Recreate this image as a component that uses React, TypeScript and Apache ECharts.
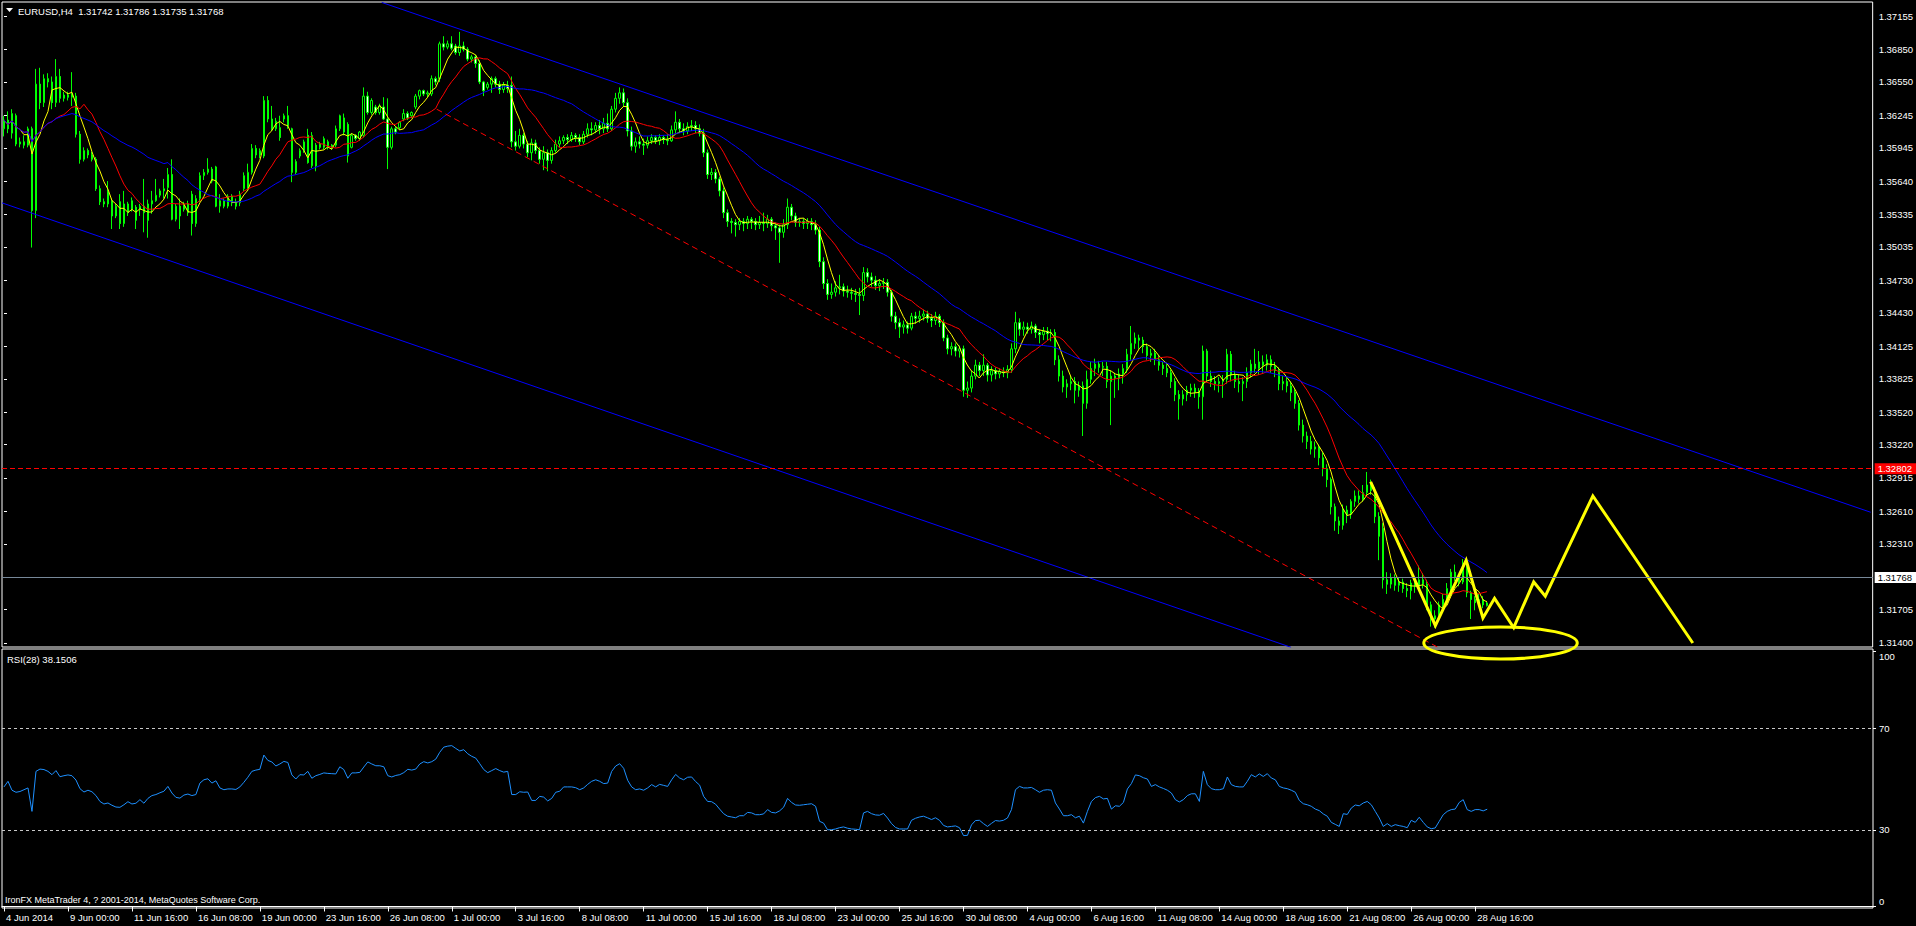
import React, { useEffect, useRef } from 'react';
import * as echarts from 'echarts';

// ---------- data ----------
const dateLabels = [
  '4 Jun 2014', '9 Jun 00:00', '11 Jun 16:00', '16 Jun 08:00', '19 Jun 00:00', '23 Jun 16:00',
  '26 Jun 08:00', '1 Jul 00:00', '3 Jul 16:00', '8 Jul 08:00', '11 Jul 00:00', '15 Jul 16:00',
  '18 Jul 08:00', '23 Jul 00:00', '25 Jul 16:00', '30 Jul 08:00', '4 Aug 00:00', '6 Aug 16:00',
  '11 Aug 08:00', '14 Aug 00:00', '18 Aug 16:00', '21 Aug 08:00', '26 Aug 00:00', '28 Aug 16:00',
];
const barsPerLabel = 16;
const totalSlots = 468;

const priceTicks = [
  1.37155, 1.3685, 1.3655, 1.36245, 1.35945, 1.3564, 1.35335, 1.35035, 1.3473, 1.3443,
  1.34125, 1.33825, 1.3352, 1.3322, 1.32915, 1.3261, 1.3231, 1.32005, 1.31705, 1.314,
];
const rsiTicks = [0, 30, 70, 100];
const rsiLevels = [70, 30];

// [open, close, low, high]
const candles: number[][] = [
  [1.3612,1.362,1.3605,1.3624],[1.362,1.3612,1.3608,1.3628],[1.3608,1.3626,1.3603,1.363],[1.3624,1.3598,1.3596,1.3626],
  [1.3598,1.36,1.3595,1.3604],[1.36,1.3597,1.3594,1.3606],[1.3597,1.3612,1.3595,1.3614],[1.3612,1.3537,1.3503,1.3614],
  [1.3537,1.3653,1.353,1.3667],[1.3653,1.3636,1.363,1.3668],[1.3636,1.3658,1.3632,1.3662],[1.3658,1.3655,1.365,1.3663],
  [1.3655,1.3636,1.363,1.366],[1.3636,1.366,1.3632,1.3676],[1.366,1.364,1.3636,1.3667],[1.364,1.3643,1.3637,1.3646],
  [1.3643,1.3641,1.3638,1.3646],[1.3641,1.3644,1.3633,1.3664],[1.3642,1.3607,1.3604,1.3645],[1.3607,1.3584,1.358,1.361],
  [1.3584,1.3592,1.3582,1.3595],[1.3592,1.3588,1.3585,1.3594],[1.3588,1.3584,1.3582,1.3591],[1.3584,1.3557,1.3555,1.3586],
  [1.3557,1.3545,1.3542,1.356],[1.3545,1.3543,1.354,1.3548],[1.3543,1.3554,1.354,1.3564],[1.3546,1.3532,1.352,1.3548],
  [1.3532,1.3541,1.353,1.3543],[1.3545,1.3525,1.352,1.3552],[1.3525,1.3543,1.3522,1.3555],[1.3543,1.3535,1.3532,1.3545],
  [1.3538,1.3546,1.3536,1.3549],[1.354,1.3528,1.352,1.3542],[1.3538,1.3541,1.3532,1.3543],[1.3541,1.3535,1.3517,1.3566],
  [1.3543,1.3528,1.3512,1.3547],[1.3543,1.3546,1.3534,1.3555],[1.3546,1.3551,1.3545,1.3566],[1.3551,1.3555,1.3549,1.3557],
  [1.3555,1.3557,1.3548,1.3566],[1.3558,1.357,1.3548,1.3576],[1.357,1.3529,1.3528,1.3584],[1.3529,1.3541,1.3527,1.3543],
  [1.3541,1.3532,1.352,1.3548],[1.3538,1.3543,1.3536,1.3545],[1.3543,1.3535,1.3532,1.3546],[1.3552,1.3525,1.3514,1.3555],
  [1.3525,1.3548,1.3522,1.3551],[1.3548,1.3569,1.3545,1.3572],[1.3569,1.3572,1.3565,1.3575],[1.3572,1.3575,1.357,1.3585],
  [1.3575,1.3564,1.3562,1.3577],[1.3577,1.3541,1.354,1.3578],[1.3541,1.3546,1.3535,1.3552],[1.3546,1.3541,1.3539,1.3548],
  [1.3541,1.355,1.3539,1.3552],[1.355,1.3544,1.3541,1.3552],[1.3544,1.3541,1.3538,1.3548],[1.3544,1.3552,1.3541,1.3555],
  [1.3557,1.3569,1.3555,1.3572],[1.3557,1.3572,1.3555,1.358],[1.3572,1.3594,1.357,1.3598],[1.3594,1.3588,1.3585,1.3597],
  [1.3588,1.3592,1.3585,1.3594],[1.3587,1.3638,1.3585,1.3642],[1.3638,1.3621,1.3618,1.3642],[1.3621,1.3612,1.361,1.3633],
  [1.3612,1.3619,1.361,1.3622],[1.3613,1.3604,1.3601,1.3624],[1.3621,1.3624,1.3618,1.3626],[1.3624,1.3615,1.3612,1.3633],
  [1.3612,1.3572,1.3563,1.3613],[1.3572,1.3582,1.357,1.3584],[1.3587,1.3592,1.3585,1.3594],[1.3592,1.36,1.359,1.3602],
  [1.3606,1.3581,1.358,1.3612],[1.3578,1.3606,1.3576,1.3609],[1.3597,1.3578,1.3573,1.3599],[1.3598,1.3595,1.3593,1.36],
  [1.3595,1.3603,1.3593,1.3605],[1.36,1.3595,1.3593,1.3602],[1.3597,1.3595,1.3593,1.3598],[1.3597,1.3612,1.3595,1.3615],
  [1.3612,1.3624,1.361,1.3625],[1.3622,1.3609,1.3606,1.3626],[1.3616,1.3587,1.3581,1.3618],[1.3595,1.3606,1.3594,1.3608],
  [1.3606,1.3603,1.3601,1.3607],[1.3603,1.3609,1.3601,1.361],[1.3606,1.3642,1.3604,1.365],[1.3642,1.3627,1.3625,1.3646],
  [1.3627,1.3638,1.3625,1.364],[1.3632,1.3627,1.3625,1.3634],[1.3627,1.3633,1.3625,1.3635],[1.3632,1.3621,1.362,1.3641],
  [1.3621,1.3595,1.3575,1.364],[1.3595,1.3612,1.3593,1.3614],[1.3612,1.3609,1.3607,1.3614],[1.3613,1.3618,1.3611,1.3619],
  [1.3621,1.3626,1.3619,1.363],[1.3626,1.3622,1.362,1.3628],[1.3624,1.3627,1.3622,1.3628],[1.3632,1.3642,1.363,1.3644],
  [1.3642,1.3647,1.3639,1.3648],[1.3647,1.3644,1.3642,1.3648],[1.3644,1.3645,1.3641,1.3647],[1.3644,1.3658,1.3642,1.3661],
  [1.3658,1.3655,1.3652,1.366],[1.3658,1.369,1.3655,1.3692],[1.369,1.3687,1.3684,1.3697],[1.3687,1.369,1.3685,1.3693],
  [1.369,1.3686,1.3684,1.3697],[1.3688,1.3682,1.368,1.369],[1.3682,1.3688,1.3679,1.3701],[1.3688,1.3685,1.3683,1.3692],
  [1.3685,1.3676,1.3674,1.3687],[1.3676,1.3678,1.3673,1.368],[1.3678,1.3672,1.3668,1.368],[1.3672,1.3655,1.3653,1.3675],
  [1.3655,1.3647,1.3642,1.3656],[1.365,1.3653,1.3648,1.3655],[1.3653,1.3658,1.3645,1.366],[1.3658,1.3653,1.365,1.366],
  [1.3653,1.3648,1.3644,1.3656],[1.3648,1.3652,1.3645,1.3655],[1.3652,1.3649,1.3645,1.3656],[1.3652,1.36,1.3595,1.366],
  [1.36,1.3596,1.3592,1.361],[1.3596,1.3606,1.3594,1.3612],[1.3606,1.3598,1.3594,1.3608],[1.3598,1.359,1.3586,1.3601],
  [1.359,1.3599,1.3583,1.3603],[1.3599,1.3592,1.3589,1.3602],[1.3592,1.3584,1.358,1.3595],[1.3584,1.359,1.3574,1.3596],
  [1.359,1.3583,1.3573,1.3593],[1.3583,1.3592,1.358,1.3595],[1.3592,1.3598,1.359,1.3602],[1.3598,1.3601,1.3595,1.3605],
  [1.3601,1.3604,1.3598,1.3606],[1.3604,1.3602,1.3598,1.3607],[1.3602,1.3606,1.36,1.3609],[1.3606,1.3604,1.36,1.3608],
  [1.3604,1.36,1.3597,1.3607],[1.36,1.3607,1.3598,1.361],[1.3607,1.3612,1.3604,1.3617],[1.3612,1.3611,1.3606,1.3618],
  [1.3611,1.3615,1.3608,1.3618],[1.3615,1.3612,1.3607,1.362],[1.3612,1.3617,1.3608,1.3622],[1.3617,1.3612,1.3609,1.3626],
  [1.3612,1.363,1.361,1.3633],[1.363,1.364,1.3627,1.3645],[1.364,1.3645,1.3635,1.365],[1.3645,1.3636,1.3632,1.3649],
  [1.3636,1.361,1.3605,1.364],[1.361,1.3596,1.3592,1.3614],[1.3596,1.36,1.359,1.3604],[1.36,1.3598,1.3594,1.3605],
  [1.3598,1.3597,1.3588,1.3603],[1.3597,1.3601,1.3594,1.3605],[1.3601,1.3604,1.3598,1.3607],[1.3604,1.3601,1.3598,1.3606],
  [1.3601,1.3604,1.3597,1.3607],[1.3604,1.3602,1.3598,1.3606],[1.3602,1.3601,1.3597,1.3607],[1.3601,1.3611,1.36,1.3615],
  [1.3611,1.3618,1.3608,1.3628],[1.3618,1.3612,1.3608,1.3621],[1.3612,1.361,1.3606,1.3617],[1.361,1.3614,1.3607,1.3618],
  [1.3614,1.3615,1.361,1.362],[1.3615,1.3612,1.3608,1.3619],[1.3612,1.3608,1.3605,1.3616],[1.3608,1.359,1.3586,1.3612],
  [1.359,1.357,1.3566,1.3593],[1.357,1.3572,1.3565,1.3576],[1.3572,1.3566,1.3562,1.3575],[1.3566,1.3555,1.355,1.3568],
  [1.3555,1.3535,1.353,1.3558],[1.3535,1.3527,1.3522,1.3538],[1.3527,1.3526,1.3516,1.353],[1.3526,1.3524,1.3513,1.3529],
  [1.3524,1.3527,1.3519,1.353],[1.3527,1.3525,1.3518,1.353],[1.3525,1.3529,1.352,1.3532],[1.3529,1.3527,1.352,1.3531],
  [1.3527,1.3524,1.3519,1.353],[1.3524,1.3526,1.352,1.3532],[1.3526,1.3525,1.3518,1.3535],[1.3525,1.3529,1.3521,1.3533],
  [1.3529,1.3523,1.3518,1.3531],[1.3523,1.3521,1.351,1.3526],[1.3521,1.3517,1.3489,1.3524],[1.3517,1.3524,1.3512,1.3529],
  [1.3524,1.354,1.352,1.3548],[1.354,1.3532,1.3528,1.3543],[1.3532,1.3526,1.3522,1.3535],[1.3526,1.3527,1.3522,1.353],
  [1.3527,1.3525,1.352,1.353],[1.3525,1.3527,1.352,1.353],[1.3527,1.3524,1.3519,1.353],[1.3524,1.3519,1.3515,1.3528],
  [1.3519,1.349,1.3485,1.3522],[1.349,1.347,1.3465,1.3494],[1.347,1.346,1.3455,1.3474],[1.346,1.3462,1.3456,1.347],
  [1.3462,1.3466,1.3458,1.3472],[1.3466,1.3467,1.346,1.3478],[1.3467,1.3463,1.3458,1.347],[1.3463,1.3462,1.3457,1.3468],
  [1.3462,1.3461,1.3455,1.3466],[1.3461,1.346,1.3453,1.3465],[1.346,1.3459,1.3441,1.3466],[1.3459,1.348,1.3454,1.3485],
  [1.348,1.3476,1.3471,1.3484],[1.3476,1.3473,1.3467,1.348],[1.3473,1.3468,1.3464,1.3477],[1.3468,1.347,1.3463,1.3474],
  [1.347,1.3471,1.3465,1.3475],[1.3471,1.3462,1.3458,1.3474],[1.3462,1.344,1.3435,1.3464],[1.344,1.3434,1.3428,1.3444],
  [1.3434,1.343,1.342,1.3438],[1.343,1.3432,1.3424,1.3436],[1.3432,1.3429,1.3424,1.3435],[1.3429,1.344,1.3427,1.3443],
  [1.344,1.3438,1.3433,1.3444],[1.3438,1.344,1.3434,1.3445],[1.344,1.3442,1.3436,1.3446],[1.3442,1.3438,1.3434,1.3445],
  [1.3438,1.3436,1.343,1.3442],[1.3436,1.344,1.3432,1.3444],[1.344,1.3434,1.343,1.3442],[1.3434,1.342,1.3417,1.3437],
  [1.342,1.341,1.3405,1.3423],[1.341,1.3412,1.3404,1.3416],[1.3412,1.3408,1.3403,1.3415],[1.3408,1.341,1.3402,1.3413],
  [1.341,1.3372,1.3366,1.3413],[1.3372,1.3374,1.3365,1.338],[1.3374,1.3385,1.337,1.339],[1.3385,1.3395,1.3382,1.34],
  [1.3395,1.339,1.3385,1.3398],[1.339,1.3395,1.3385,1.3405],[1.3395,1.3386,1.338,1.3397],[1.3386,1.339,1.338,1.3394],
  [1.339,1.3387,1.3382,1.3393],[1.3387,1.3389,1.3383,1.3392],[1.3389,1.3388,1.3384,1.3393],[1.3388,1.3391,1.3383,1.3395],
  [1.3391,1.341,1.3388,1.3415],[1.341,1.3434,1.3406,1.3444],[1.3434,1.3428,1.3422,1.3438],[1.3428,1.343,1.3422,1.3435],
  [1.343,1.3428,1.3424,1.3434],[1.3428,1.3431,1.3424,1.3435],[1.3431,1.3425,1.342,1.3433],[1.3425,1.3423,1.3415,1.3428],
  [1.3423,1.3426,1.3418,1.343],[1.3426,1.3424,1.3418,1.343],[1.3424,1.3425,1.3417,1.3428],[1.3425,1.34,1.3395,1.3428],
  [1.34,1.3385,1.338,1.3404],[1.3385,1.3375,1.337,1.339],[1.3375,1.3378,1.3365,1.3382],[1.3378,1.338,1.3372,1.3385],
  [1.338,1.3372,1.336,1.3384],[1.3372,1.3376,1.3366,1.338],[1.3376,1.336,1.333,1.338],[1.336,1.3382,1.3355,1.339],
  [1.3382,1.3392,1.3378,1.3398],[1.3392,1.3396,1.3385,1.3401],[1.3396,1.3393,1.3388,1.3399],[1.3393,1.3394,1.3385,1.3398],
  [1.3394,1.338,1.3374,1.3398],[1.338,1.3385,1.334,1.339],[1.3385,1.3383,1.3365,1.3388],[1.3383,1.3387,1.3372,1.3392],
  [1.3387,1.3392,1.3378,1.3396],[1.3392,1.3405,1.3388,1.341],[1.3405,1.3415,1.34,1.3431],[1.3415,1.342,1.341,1.3425],
  [1.342,1.3418,1.341,1.3423],[1.3418,1.3412,1.3406,1.3421],[1.3412,1.3404,1.34,1.3415],[1.3404,1.3406,1.3398,1.341],
  [1.3406,1.34,1.3395,1.341],[1.34,1.3395,1.339,1.3404],[1.3395,1.3392,1.3386,1.3398],[1.3392,1.3388,1.3384,1.3396],
  [1.3388,1.338,1.3374,1.3391],[1.338,1.3368,1.3362,1.3383],[1.3368,1.3364,1.3345,1.3372],[1.3364,1.3368,1.3358,1.3372],
  [1.3368,1.3372,1.3362,1.3376],[1.3372,1.3374,1.3366,1.3378],[1.3374,1.337,1.3365,1.3378],[1.337,1.3366,1.3355,1.3374],
  [1.3366,1.3408,1.3345,1.3413],[1.3408,1.3385,1.338,1.341],[1.3385,1.338,1.3375,1.339],[1.338,1.3378,1.3372,1.3385],
  [1.3378,1.338,1.337,1.3384],[1.338,1.3382,1.3365,1.3386],[1.3382,1.3405,1.3378,1.341],[1.3405,1.3386,1.338,1.3408],
  [1.3386,1.338,1.3374,1.339],[1.338,1.3378,1.337,1.3386],[1.3378,1.338,1.3362,1.3384],[1.338,1.3388,1.3374,1.3393],
  [1.3388,1.3396,1.3384,1.34],[1.3396,1.3392,1.3388,1.341],[1.3392,1.3398,1.3386,1.3408],[1.3398,1.3395,1.3388,1.3404],
  [1.3395,1.34,1.339,1.3405],[1.34,1.3394,1.3388,1.3404],[1.3394,1.339,1.3384,1.3398],[1.339,1.3378,1.3372,1.3393],
  [1.3378,1.338,1.3372,1.3385],[1.338,1.3376,1.337,1.3384],[1.3376,1.337,1.3362,1.338],[1.337,1.336,1.3355,1.3373],
  [1.336,1.334,1.3335,1.3363],[1.334,1.333,1.3324,1.3345],[1.333,1.3325,1.3318,1.3334],[1.3325,1.3318,1.3313,1.333],
  [1.3318,1.332,1.331,1.3325],[1.332,1.331,1.3303,1.3322],[1.331,1.33,1.3293,1.3315],[1.33,1.329,1.3283,1.3304],
  [1.329,1.3265,1.3258,1.3292],[1.3265,1.3252,1.3243,1.3268],[1.3252,1.3248,1.324,1.3256],[1.3248,1.3262,1.3244,1.3267],
  [1.3262,1.3258,1.325,1.3266],[1.3258,1.327,1.3254,1.3272],[1.327,1.3275,1.3265,1.328],[1.3275,1.3272,1.3268,1.328],
  [1.3272,1.3278,1.327,1.3285],[1.3278,1.3285,1.3274,1.3297],[1.3285,1.328,1.3276,1.329],[1.328,1.3256,1.325,1.3283],
  [1.3256,1.3238,1.3216,1.326],[1.3245,1.3198,1.319,1.325],[1.3198,1.3194,1.3185,1.3205],[1.3194,1.32,1.319,1.3204],
  [1.32,1.3193,1.3188,1.3203],[1.3193,1.3196,1.3187,1.32],[1.3196,1.319,1.3186,1.3199],[1.319,1.3188,1.3182,1.3195],
  [1.3188,1.3195,1.318,1.3198],[1.3195,1.3192,1.3186,1.32],[1.3192,1.3198,1.3188,1.3211],[1.3198,1.3194,1.319,1.3204],
  [1.3194,1.3175,1.317,1.3198],[1.3175,1.3162,1.3155,1.3178],[1.3162,1.3165,1.3154,1.317],[1.3165,1.3175,1.316,1.3178],
  [1.3175,1.318,1.3168,1.3185],[1.318,1.319,1.3176,1.3195],[1.319,1.3205,1.3186,1.3208],[1.3205,1.32,1.3197,1.3212],
  [1.32,1.3196,1.3192,1.3203],[1.3196,1.3212,1.3194,1.3217],[1.3212,1.3186,1.3182,1.3214],[1.3186,1.318,1.3162,1.3188],
  [1.318,1.3177,1.317,1.3183],[1.3177,1.318,1.3174,1.3185],[1.318,1.3175,1.3172,1.3183],[1.31742,1.31768,1.31735,1.31786],
];

const rsi28 = [
  46.9,49.1,45.6,44.8,45.1,45.8,46.5,37.3,53.0,53.9,53.7,53.0,51.7,53.3,50.9,51.3,51.6,51.3,49.6,46.2,
  44.9,45.6,45.0,43.5,41.2,40.2,40.6,39.7,39.0,38.9,39.9,41.1,40.2,40.5,41.9,40.5,42.4,43.5,43.9,44.6,
  45.2,47.1,44.5,42.8,42.5,43.7,44.1,43.5,43.9,48.4,49.7,50.1,48.4,49.3,46.5,45.8,46.1,46.1,45.9,46.9,
  48.7,50.7,53.0,53.5,53.8,59.4,57.3,56.7,55.1,55.9,56.9,56.5,51.6,50.0,51.7,51.6,53.0,50.3,51.3,51.8,
  52.4,52.2,52.1,52.0,54.8,53.7,50.3,52.4,52.4,52.6,54.7,56.7,55.9,55.2,55.2,54.8,51.3,50.8,51.4,51.7,
  52.5,53.8,53.5,53.9,55.9,56.8,56.3,56.8,57.8,60.5,62.5,62.9,63.1,62.0,61.0,61.5,59.9,58.9,58.2,56.0,
  53.7,52.5,53.3,54.1,53.3,52.7,53.0,43.9,43.9,45.0,44.8,44.9,41.6,41.6,43.2,42.9,41.4,42.4,44.8,45.2,
  46.9,46.9,46.9,46.6,45.8,46.5,47.9,49.1,49.7,49.1,48.2,48.4,53.0,55.1,56.0,54.2,49.5,46.9,45.8,46.1,
  45.6,46.5,47.8,46.9,47.9,47.5,47.1,49.7,51.8,50.4,49.7,50.7,50.8,49.0,47.6,43.2,41.2,41.1,40.1,38.2,
  36.4,35.4,35.1,34.8,35.6,35.6,36.9,36.7,36.0,36.0,36.3,38.0,36.9,36.7,37.5,38.9,42.4,40.8,39.8,39.7,
  39.9,40.1,40.3,39.3,33.4,32.7,30.1,30.1,30.4,30.9,31.2,30.7,30.4,30.3,30.1,36.7,37.3,36.4,35.9,35.8,
  36.5,34.7,32.5,31.0,30.4,30.4,30.4,33.8,34.6,35.1,35.4,34.8,34.1,34.8,33.8,31.8,31.2,31.4,31.6,30.9,
  27.8,27.9,32.0,33.7,33.8,32.5,31.4,32.6,33.7,33.5,33.8,34.7,38.0,45.8,47.1,46.5,46.5,46.7,45.8,44.8,
  45.6,45.8,45.6,40.6,38.2,35.6,35.6,36.0,34.8,35.4,32.7,37.3,41.2,42.7,43.2,42.2,42.4,38.2,39.5,39.3,
  40.8,46.1,48.2,51.6,51.3,50.5,50.0,47.1,47.8,46.9,46.3,45.6,44.5,41.9,41.0,41.9,43.5,44.2,44.2,41.2,
  53.0,47.8,46.2,45.8,45.8,46.2,50.8,47.8,47.1,46.9,46.9,49.1,51.7,50.8,52.0,51.0,52.1,50.4,49.7,47.1,
  46.5,46.2,45.6,44.8,41.6,40.3,39.9,39.3,38.2,37.6,36.3,35.4,33.0,32.2,31.4,36.4,36.1,38.6,39.8,39.5,
  40.6,41.2,39.9,37.3,34.7,31.4,32.5,31.4,32.1,31.7,31.4,30.9,33.8,33.0,35.0,33.0,31.2,30.5,30.8,33.4,
  36.0,37.3,38.0,38.2,40.8,41.9,38.0,37.3,38.0,38.0,37.5,38.15,
];
const rsiLast = 38.1506;

const symbolName = 'EURUSD,H4';
const lastQuote = [1.31742, 1.31786, 1.31735, 1.31768]; // open, high, low, close
const resistanceLevel = 1.32802;
const maPeriods = [5, 13, 34];

// drawn objects, as [bar index, price]
const upperChannel = [[94.5, 1.3728], [467, 1.326]];
const lowerChannel = [[-0.5, 1.3544], [322, 1.3136]];
const redTrend = [[108.25, 1.363], [358.75, 1.3136]];
const projection = [
  [341.9, 1.3288], [358.1, 1.3156], [365.8, 1.3216], [370, 1.3163], [372.9, 1.3181],
  [377.7, 1.3154], [382.7, 1.3196], [385.6, 1.3183], [397.5, 1.3275], [422.5, 1.314],
];
const ellipseCenter = [374.4, 1.314];
const ellipseRadius = [19.2, 0.00147];

// ---------- helpers ----------
function sma(values: number[], n: number) {
  return values.map((_, i) => {
    const s = Math.max(0, i - n + 1);
    let sum = 0;
    for (let k = s; k <= i; k++) sum += values[k];
    return +(sum / (i - s + 1)).toFixed(5);
  });
}

const FONT = '"Liberation Sans", Arial, sans-serif';

export default function App() {
  const ref = useRef<HTMLDivElement>(null);

  useEffect(() => {
    const el = ref.current!;
    const chart = echarts.init(el, undefined, { renderer: 'svg', width: 1916, height: 926 });

    const cats = Array.from({ length: totalSlots }, (_, i) =>
      i % barsPerLabel === 0 && i / barsPerLabel < dateLabels.length ? dateLabels[i / barsPerLabel] : ''
    );
    const labelFn = (i: number) => i % barsPerLabel === 0 && i / barsPerLabel < dateLabels.length;
    const closes = candles.map((c) => c[1]);
    const maColors = ['#ffff00', '#ff0000', '#0000ff'];

    const option: any = {
      backgroundColor: '#000000',
      animation: false,
      grid: [
        { left: 2, top: 2, width: 1871, height: 645, show: true, borderColor: '#ffffff', borderWidth: 1, backgroundColor: 'transparent' },
        { left: 2, top: 649, width: 1871, height: 259, show: true, borderColor: '#ffffff', borderWidth: 1, backgroundColor: 'transparent' },
      ],
      xAxis: [
        {
          type: 'category', gridIndex: 0, data: cats, boundaryGap: true,
          axisLine: { show: false }, axisTick: { show: false }, axisLabel: { show: false }, splitLine: { show: false },
        },
        {
          type: 'category', gridIndex: 1, data: cats, boundaryGap: true,
          axisLine: { show: true, lineStyle: { color: '#ffffff' } },
          axisTick: { show: true, alignWithLabel: true, interval: labelFn, length: 5, lineStyle: { color: '#ffffff' } },
          axisLabel: { interval: labelFn, align: 'left', color: '#ffffff', fontSize: 9.5, fontFamily: FONT, margin: 4, padding: [0, 0, 0, 2] },
          splitLine: { show: false },
        },
        { type: 'value', gridIndex: 0, min: -0.5, max: totalSlots - 0.5, show: false },
      ],
      yAxis: [
        {
          type: 'value', gridIndex: 0, position: 'right', min: 1.31363, max: 1.37284,
          axisLine: { show: false }, splitLine: { show: false },
          axisTick: { show: true, customValues: priceTicks, length: 3, lineStyle: { color: '#ffffff' } },
          axisLabel: {
            customValues: priceTicks, formatter: (v: number) => v.toFixed(5),
            color: '#ffffff', fontSize: 9.5, fontFamily: FONT, margin: 6,
          },
        },
        {
          type: 'value', gridIndex: 1, position: 'right', min: -0.6, max: 101,
          axisLine: { show: false }, splitLine: { show: false },
          axisTick: { show: true, customValues: rsiTicks, length: 3, lineStyle: { color: '#ffffff' } },
          axisLabel: {
            customValues: rsiTicks,
            formatter: (v: number) => (v === 100 ? '{t|100}' : v === 0 ? '{b|0}' : String(v)),
            color: '#ffffff', fontSize: 9.5, fontFamily: FONT, margin: 6,
            rich: {
              t: { padding: [10, 0, 0, 0], color: '#ffffff', fontSize: 9.5, fontFamily: FONT },
              b: { padding: [0, 0, 9, 0], color: '#ffffff', fontSize: 9.5, fontFamily: FONT },
            },
          },
        },
      ],
      series: [
        {
          type: 'candlestick', name: 'EURUSD', xAxisIndex: 0, yAxisIndex: 0, data: candles, barWidth: 2,
          itemStyle: { color: '#000000', color0: '#ffffff', borderColor: '#00ff00', borderColor0: '#00ff00', borderWidth: 1 },
          silent: true,
          markLine: {
            symbol: 'none', silent: true, animation: false,
            data: [
              {
                yAxis: resistanceLevel,
                lineStyle: { color: '#ff0000', type: [5, 3], width: 1 },
                label: {
                  show: true, position: 'end', distance: 2, formatter: resistanceLevel.toFixed(5),
                  color: '#ffffff', backgroundColor: '#ff0000', padding: [1, 4, 0, 3], fontSize: 9.5, fontFamily: FONT,
                },
              },
              {
                yAxis: lastQuote[3],
                lineStyle: { color: '#778899', type: 'solid', width: 1 },
                label: {
                  show: true, position: 'end', distance: 2, formatter: lastQuote[3].toFixed(5),
                  color: '#000000', backgroundColor: '#ffffff', padding: [1, 4, 0, 3], fontSize: 9.5, fontFamily: FONT,
                },
              },
            ],
          },
        },
        ...maPeriods.map((p, k) => ({
          type: 'line', name: 'MA' + p, xAxisIndex: 0, yAxisIndex: 0, data: sma(closes, p),
          showSymbol: false, symbol: 'none', silent: true,
          lineStyle: { color: maColors[k], width: 1 },
        })),
        {
          type: 'line', xAxisIndex: 2, yAxisIndex: 0, data: upperChannel, symbol: 'none', silent: true,
          lineStyle: { color: '#0000ff', width: 1 },
        },
        {
          type: 'line', xAxisIndex: 2, yAxisIndex: 0, data: lowerChannel, symbol: 'none', silent: true,
          lineStyle: { color: '#0000ff', width: 1 },
        },
        {
          type: 'line', xAxisIndex: 2, yAxisIndex: 0, data: redTrend, symbol: 'none', silent: true,
          lineStyle: { color: '#ff0000', width: 1, type: [6, 4] },
        },
        {
          type: 'line', xAxisIndex: 2, yAxisIndex: 0, data: projection, symbol: 'none', silent: true,
          lineStyle: { color: '#ffff00', width: 3, join: 'miter' },
        },
        {
          type: 'line', name: 'RSI', xAxisIndex: 1, yAxisIndex: 1, data: rsi28, symbol: 'none', silent: true,
          lineStyle: { color: '#1e90ff', width: 1 },
          markLine: {
            symbol: 'none', silent: true, animation: false,
            label: { show: false },
            lineStyle: { color: '#c8c8c8', type: [3, 3], width: 1 },
            data: rsiLevels.map((v) => ({ yAxis: v })),
          },
        },
      ],
    };

    chart.setOption(option);

    const projIdx = 1 + maPeriods.length + 3;
    const c = chart.convertToPixel({ seriesIndex: projIdx }, ellipseCenter) as number[];
    const e = chart.convertToPixel({ seriesIndex: projIdx }, [
      ellipseCenter[0] + ellipseRadius[0], ellipseCenter[1] + ellipseRadius[1],
    ]) as number[];

    const header = symbolName + '  ' + lastQuote.map((v) => v.toFixed(5)).join(' ');
    chart.setOption({
      graphic: [
        { type: 'polygon', shape: { points: [[6, 8], [13, 8], [9.5, 12]] }, style: { fill: '#ffffff' }, z: 100 },
        { type: 'text', x: 18, y: 11, style: { text: header, fill: '#ffffff', fontSize: 9.5, fontFamily: FONT, verticalAlign: 'middle' }, z: 100 },
        { type: 'text', x: 7, y: 659, style: { text: 'RSI(28) ' + rsiLast.toFixed(4), fill: '#ffffff', fontSize: 9.5, fontFamily: FONT, verticalAlign: 'middle' }, z: 100 },
        { type: 'text', x: 5, y: 900, style: { text: 'IronFX MetaTrader 4, ? 2001-2014, MetaQuotes Software Corp.', fill: '#ffffff', fontSize: 9, fontFamily: FONT, verticalAlign: 'middle' }, z: 100 },
        {
          type: 'ellipse',
          shape: { cx: c[0], cy: c[1], rx: Math.abs(e[0] - c[0]), ry: Math.abs(e[1] - c[1]) },
          style: { fill: 'none', stroke: '#ffff00', lineWidth: 3 }, z: 100,
        },
      ],
    });

    return () => chart.dispose();
  }, []);

  return (
    <div
      ref={ref}
      style={{ position: 'fixed', left: 0, top: 0, width: 1916, height: 926, background: '#000000' }}
    />
  );
}
